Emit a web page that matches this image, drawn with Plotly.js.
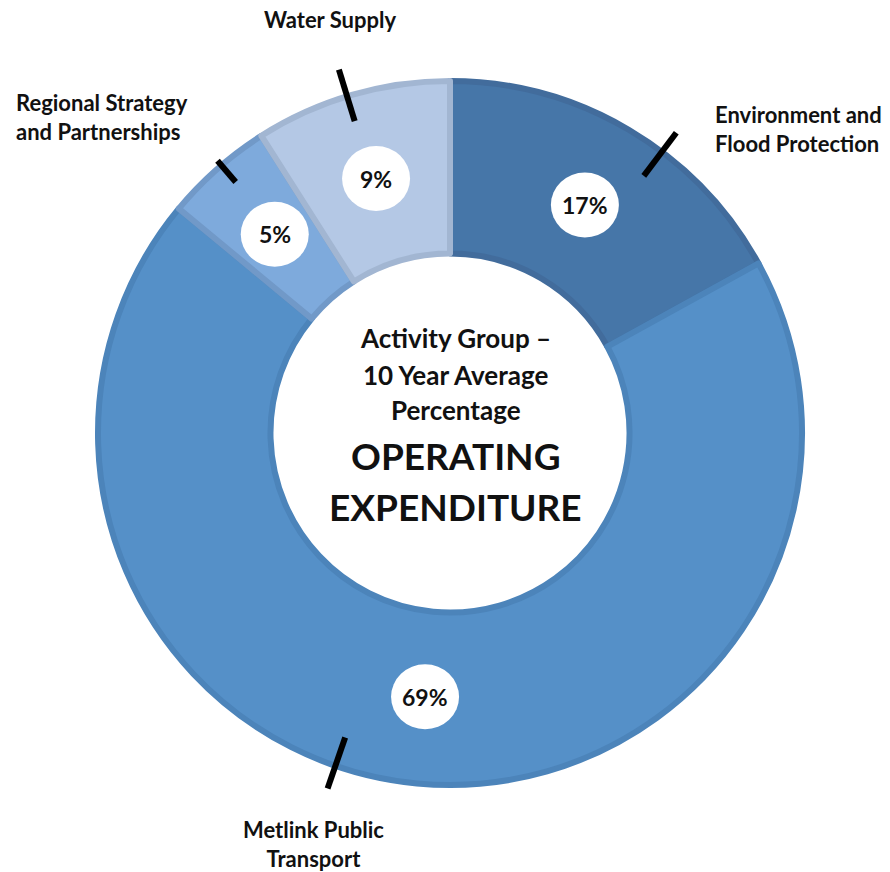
<!DOCTYPE html>
<html>
<head>
<meta charset="utf-8">
<script src="https://cdn.plot.ly/plotly-3.0.1.min.js"></script>
<style>html,body{margin:0;padding:0;background:#fff;}#chart{width:890px;height:872px;}</style>
</head>
<body>
<div id="chart"></div>
<script>
// ---- data ----
const categories = ["Environment and Flood Protection", "Metlink Public Transport", "Regional Strategy and Partnerships", "Water Supply"];
const displayLabels = ["Environment and<br>Flood Protection", "Metlink Public<br>Transport", "Regional Strategy<br>and Partnerships", "Water Supply"];
const values = [17, 69, 5, 9];
const sliceColors = ["#4676A8", "#5590C8", "#7EAADC", "#B4C8E5"];
const borderColors = ["#426C9C", "#4C84BA", "#7199C8", "#A2B6D2"];

// ---- layout config (pixels) ----
const W = 890, H = 872;
const CX = 450, CY = 433, R = 352;
const FONT = "Lato, 'Open Sans', sans-serif";
const labelRadius = 265, circleW = 68, circleH = 65;
// leader-line angle (deg clockwise from top) and radial extent per label
const leaderCfg = [
  {ang: 37, r0: 322, r1: 376},
  {ang: 199, r0: 322, r1: 376},
  {ang: 319.5, r0: 330, r1: 358},
  {ang: 343, r0: 326, r1: 380}
];
const labelCfg = [
  {x: 713, y: 129, align: "left", xanchor: "left"},
  {x: 313, y: 844, align: "center", xanchor: "center"},
  {x: 14, y: 117, align: "left", xanchor: "left"},
  {x: 330, y: 19, align: "center", xanchor: "center"}
];

const px = x => x / W;
const py = y => 1 - y / H;
function polar(angDeg, r) {
  const a = angDeg * Math.PI / 180;
  return [CX + r * Math.sin(a), CY - r * Math.cos(a)];
}

const total = values.reduce((s, v) => s + v, 0);
const shapes = [], annotations = [];
let cum = 0;
values.forEach((v, i) => {
  const mid = (cum + v / 2) / total * 360;
  cum += v;
  const [lx, ly] = polar(mid, labelRadius);
  shapes.push({type: "circle", xref: "paper", yref: "paper",
    x0: px(lx - circleW / 2), x1: px(lx + circleW / 2),
    y0: py(ly + circleH / 2), y1: py(ly - circleH / 2),
    fillcolor: "#ffffff", line: {width: 0}});
  annotations.push({xref: "paper", yref: "paper", x: px(lx), y: py(ly),
    xanchor: "center", yanchor: "middle",
    text: "<b>" + Math.round(v / total * 100) + "%</b>", showarrow: false,
    font: {family: FONT, size: 23, color: "#111"}});
  const lc = leaderCfg[i];
  const [ax, ay] = polar(lc.ang, lc.r0);
  const [bx, by] = polar(lc.ang, lc.r1);
  shapes.push({type: "line", xref: "paper", yref: "paper",
    x0: px(ax), y0: py(ay), x1: px(bx), y1: py(by),
    line: {color: "#000", width: 6}});
  const lb = labelCfg[i];
  annotations.push({xref: "paper", yref: "paper", x: px(lb.x), y: py(lb.y),
    xanchor: lb.xanchor, yanchor: "middle", align: lb.align,
    text: "<b>" + displayLabels[i] + "</b>", showarrow: false,
    font: {family: FONT, size: 22, color: "#111"}});
});

// centre text
const centreLines = [
  {t: "Activity Group –", y: 338, s: 26},
  {t: "10 Year Average", y: 375, s: 26},
  {t: "Percentage", y: 410, s: 26},
  {t: "OPERATING", y: 455, s: 37},
  {t: "EXPENDITURE", y: 506, s: 37}
];
centreLines.forEach(c => annotations.push({xref: "paper", yref: "paper",
  x: px(456), y: py(c.y), xanchor: "center", yanchor: "middle",
  text: "<b>" + c.t + "</b>", showarrow: false,
  font: {family: FONT, size: c.s, color: "#111"}}));

const trace = {
  type: "pie", labels: categories, values: values, sort: false,
  direction: "clockwise", rotation: 0, hole: 0.51,
  textinfo: "none", hoverinfo: "label+percent",
  marker: {colors: sliceColors, line: {color: borderColors, width: 6}},
  domain: {x: [px(CX - R), px(CX + R)], y: [py(CY + R), py(CY - R)]},
  showlegend: false
};

Plotly.newPlot("chart", [trace], {
  width: W, height: H, margin: {l: 0, r: 0, t: 0, b: 0},
  paper_bgcolor: "#fff", plot_bgcolor: "#fff",
  shapes: shapes, annotations: annotations, showlegend: false
}, {displayModeBar: false, staticPlot: true});
</script>
</body>
</html>
